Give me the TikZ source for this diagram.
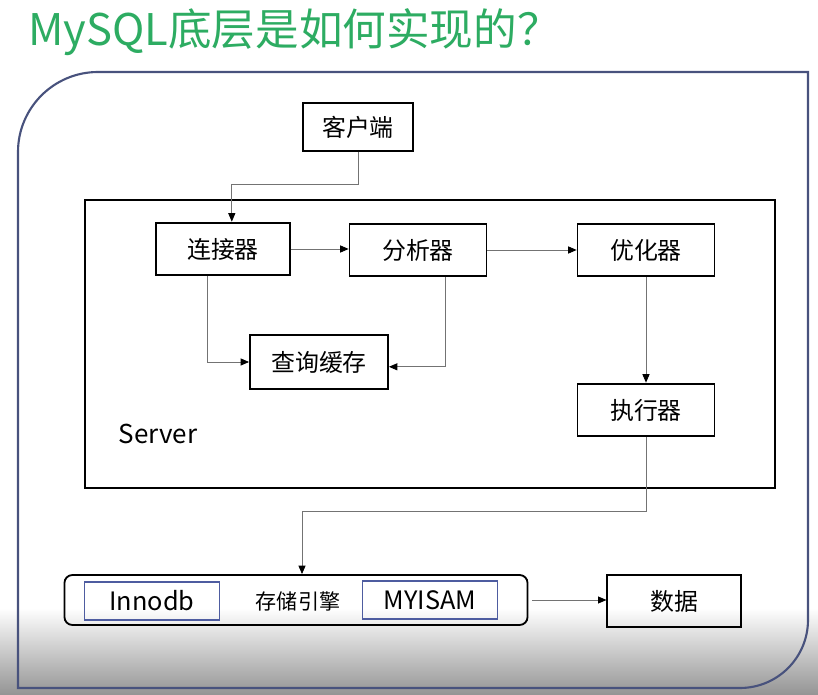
\documentclass[tikz,border=0pt]{standalone}
\usepackage{fontspec}
\setmainfont{Noto Sans CJK SC}
\usetikzlibrary{arrows.meta,positioning}
\definecolor{titlegreen}{RGB}{45,172,98}
\definecolor{framecolor}{RGB}{72,82,125}
\definecolor{engineblue}{RGB}{78,92,160}

\begin{document}
\begin{tikzpicture}[
    x=0.025cm, y=-0.025cm,
    every node/.style={inner sep=0pt, font=\fontsize{17}{20}\selectfont},
    module/.style={draw, line width=1.3pt, minimum width=3.33cm, minimum height=1.32cm},
    engine/.style={draw=engineblue, line width=1pt, minimum width=3.375cm, minimum height=0.95cm, font=\fontsize{18}{21}\selectfont},
    link/.style={draw=black!55, line width=0.6pt, -{Triangle[length=6pt,width=5pt,color=black]}}
]
\useasboundingbox (0,0) rectangle (818,695);

% screen fade at the bottom
\fill[top color=white, bottom color=black!42] (0,608) rectangle (818,695);

% outer frame
\draw[framecolor, line width=1.5pt] (18,688) -- (18,300)
    {[rounded corners=2cm] -- (18,72) -- (300,72)} -- (808,72) -- (808,400)
    {[rounded corners=1.7cm] -- (808,688) -- (500,688)} -- cycle;

\node[anchor=west, text=titlegreen, font=\fontsize{31}{35}\selectfont] (title) at (28,32) {MySQL底层是如何实现的？};

\node[module, minimum width=2.75cm, minimum height=1.18cm] (client) at (358,127) {客户端};

% Server
\node[draw, line width=1.3pt, minimum width=17.25cm, minimum height=7.2cm] (server) at (430,344) {};
\node[font=\fontsize{18.5}{22}\selectfont] (serverlabel) at (158,434) {Server};
\node[module] (conn) at (223,249) {连接器};
\node[module, minimum width=3.42cm] (parse) at (418,250) {分析器};
\node[module, minimum width=3.42cm] (opt) at (646,250) {优化器};
\node[module, minimum width=3.45cm, minimum height=1.37cm] (cache) at (319,362) {查询缓存};
\node[module, minimum width=3.42cm] (exec) at (646,410) {执行器};

% storage engines
\node[draw, rounded corners=0.2cm, line width=1.3pt, minimum width=11.575cm, minimum height=1.25cm] (storage) at (296,600) {};
\node[engine] (innodb) at (152,601) {Innodb};
\node[font=\fontsize{15}{18}\selectfont] (engname) at (298,601) {存储引擎};
\node[engine] (myisam) at (430,600) {MYISAM};
\node[module, minimum height=1.3cm] (data) at (674,601) {数据};

% connectors
\draw[link] (client.south) -- ++(0,33) -| ([xshift=0.22cm]conn.north);
\draw[link] (conn.east) -- (parse.west |- conn.east);
\draw[link] (parse.east) -- (opt.west);
\draw[link] ([xshift=-0.4cm]conn.south) |- (cache.west);
\draw[link] ([xshift=0.68cm]parse.south) |- ([yshift=-0.12cm]cache.east);
\draw[link] (opt) -- (exec);
\draw[link] (exec.south) -- ++(0,74) -| ([xshift=0.15cm]storage.north);
\draw[link] ([xshift=0.1cm]storage.east) -- (data.west |- storage.east);

\end{tikzpicture}
\end{document}
